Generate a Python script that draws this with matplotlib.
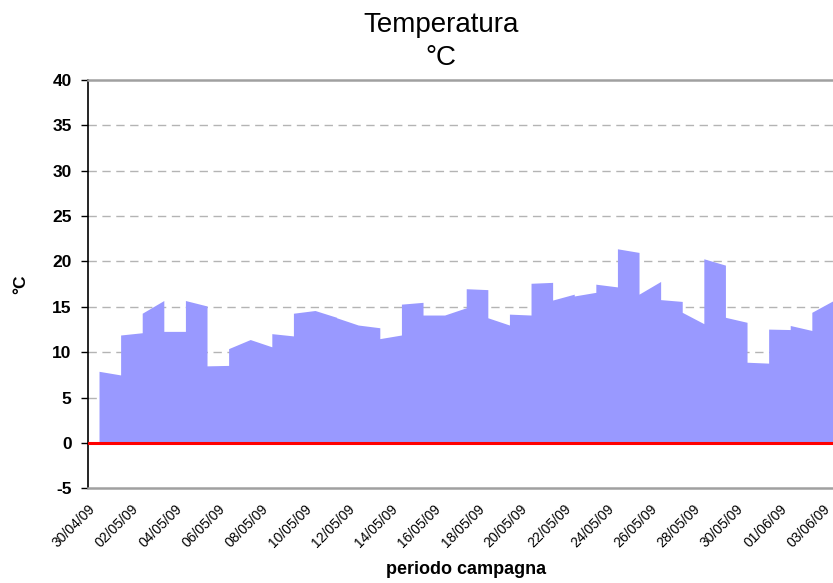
import numpy as np
import matplotlib
matplotlib.use("Agg")
import matplotlib.pyplot as plt

plt.rcParams['font.family'] = ['Liberation Sans', 'DejaVu Sans']

# daily segments: value at start and end of each day (from 30/04/09 12:00)
t_inizio = [7.9, 11.9, 14.3, 12.3, 15.7, 8.5, 10.4, 11.4, 12.05, 14.3,
            14.6, 13.8, 13.0, 11.5, 15.3, 14.1, 14.1, 17.0, 13.8, 14.2,
            17.6, 15.75, 16.2, 17.5, 21.4, 16.4, 15.8, 14.4, 20.3, 13.85,
            8.9, 12.55, 12.95, 14.4]
t_fine = [7.5, 12.15, 15.7, 12.3, 15.1, 8.55, 11.4, 10.6, 11.8, 14.6,
          13.85, 13.0, 12.7, 11.9, 15.5, 14.1, 14.9, 16.9, 13.0, 14.1,
          17.7, 16.4, 16.6, 17.2, 21.0, 17.8, 15.6, 13.15, 19.6, 13.3,
          8.8, 12.5, 12.4, 15.7]

tick_labels = ['30/04/09', '02/05/09', '04/05/09', '06/05/09', '08/05/09',
               '10/05/09', '12/05/09', '14/05/09', '16/05/09', '18/05/09',
               '20/05/09', '22/05/09', '24/05/09', '26/05/09', '28/05/09',
               '30/05/09', '01/06/09', '03/06/09']
tick_days = [0, 2, 4, 6, 8, 10, 12, 14, 16, 18, 20, 22, 24, 26, 28, 30, 32, 34]

# build x/y for the area (start and end of every day)
x = []
y = []
for k in range(len(t_inizio)):
    x += [k + 0.5, k + 1.5]
    y += [t_inizio[k], t_fine[k]]

fig = plt.figure(figsize=(8.33, 5.83), dpi=100)
ax = fig.add_axes([0.1059, 0.1623, 0.8941, 0.7005])

ax.fill_between(x, y, 0, color='#9999FF', linewidth=0, zorder=2)
ax.axhline(0, color='#FF0000', lw=2.2, zorder=3)

for g in [5, 10, 15, 20, 25, 30, 35]:
    ax.axhline(g, color='#b4b4b4', lw=1.0, dashes=(6, 4), zorder=1)

ax.set_xlim(0, 34.48)
ax.set_ylim(-5, 40)
ax.set_yticks(np.arange(-5, 41, 5))
ax.set_yticklabels([str(v) for v in range(-5, 41, 5)], fontsize=12.5, fontweight='bold')
ax.tick_params(axis='y', length=5, width=1, direction='out', pad=7, color='black')

ax.set_xticks(tick_days)
ax.set_xticklabels(tick_labels, rotation=45, ha='right', rotation_mode='anchor', fontsize=10)
ax.tick_params(axis='x', length=0, pad=10)

ax.spines['right'].set_visible(False)
ax.spines['left'].set_color('black')
ax.spines['left'].set_linewidth(1.2)
ax.spines['top'].set_color('#a0a0a0')
ax.spines['top'].set_linewidth(1.8)
ax.spines['bottom'].set_color('#a0a0a0')
ax.spines['bottom'].set_linewidth(1.8)

ax.set_ylabel('°C', fontsize=12.5, fontweight='bold', labelpad=17)
fig.text(466 / 833, 1 - 574 / 583, 'periodo campagna', fontsize=13, fontweight='bold',
         ha='center', va='baseline')
fig.text(441 / 833, 1 - 31.7 / 583, 'Temperatura', fontsize=20, ha='center', va='baseline')
fig.text(441 / 833, 1 - 65 / 583, '°C', fontsize=20, ha='center', va='baseline')

fig.savefig('out.png', dpi=100)
